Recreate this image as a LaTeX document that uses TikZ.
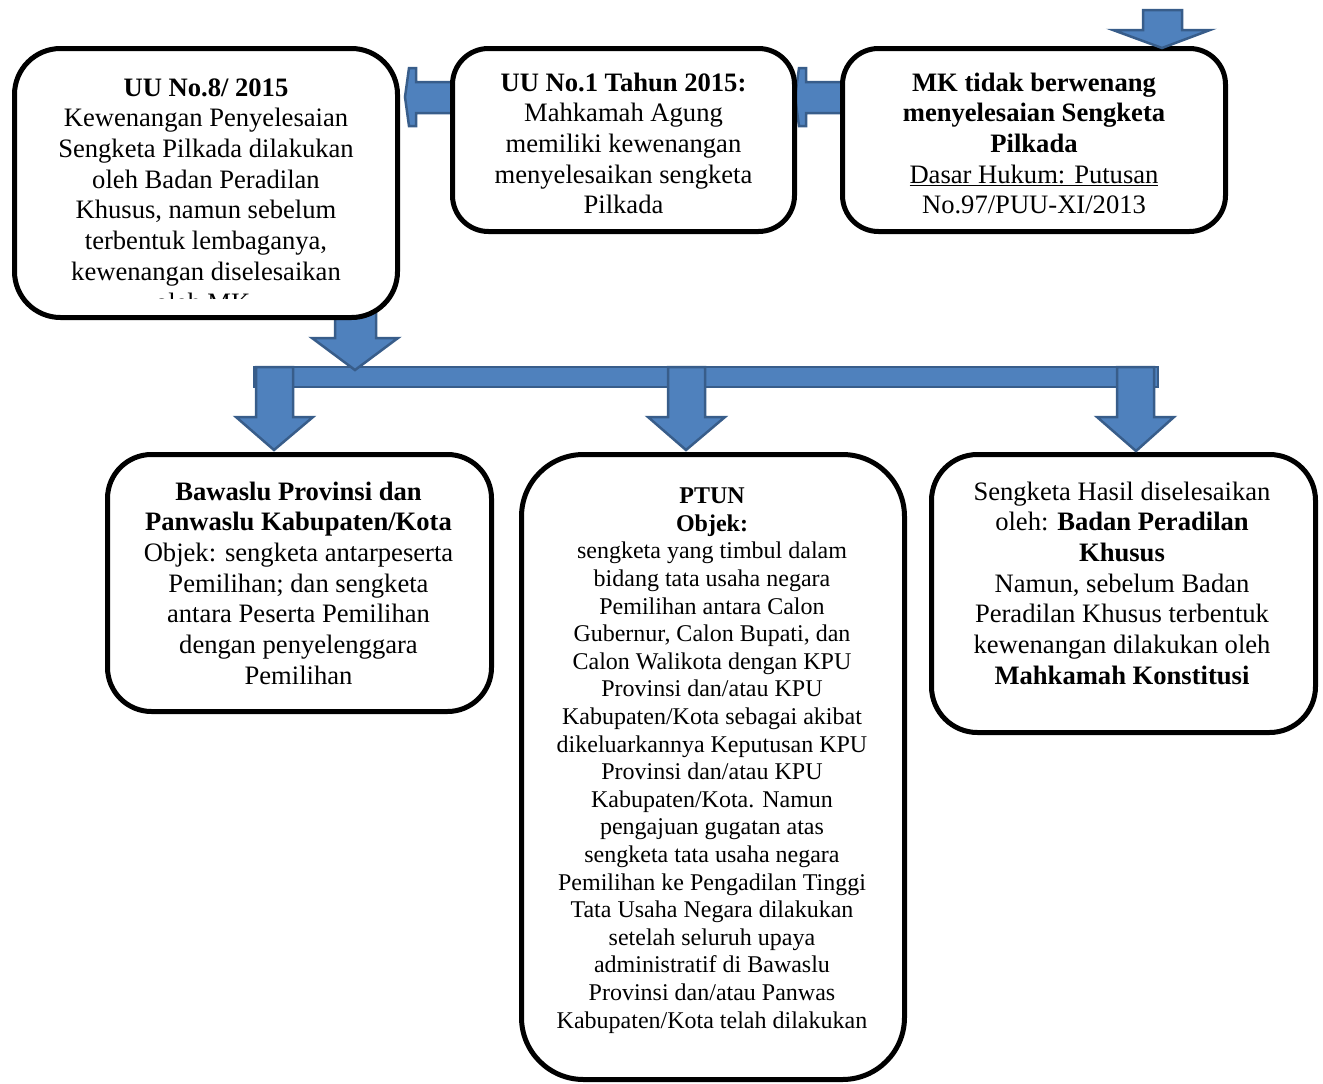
\documentclass[tikz,border=0pt]{standalone}
\usepackage{fontspec}
\setmainfont{Liberation Serif}
\begin{document}
\begin{tikzpicture}[x=1pt,y=-1pt,
  box/.style={draw=black, line width=5pt, fill=white},
  bigtxt/.style={anchor=north, align=center, inner sep=0pt, font={\fontsize{26.6}{30.7}\selectfont}},
  smalltxt/.style={anchor=north, align=center, inner sep=0pt, font={\fontsize{24}{27.6}\selectfont}},
  blockarrow/.style={fill=arrowfill, draw=arrowline, line width=2.5pt, line join=miter}
]
\definecolor{arrowfill}{RGB}{79,129,189}
\definecolor{arrowline}{RGB}{56,93,138}
\useasboundingbox (0,0) rectangle (1323,1084);

% distribution bar
\draw[blockarrow] (254,367) rectangle (1158,387);
% down arrow from box 1 to the bar
\draw[blockarrow] (335,312) -- (376,312) -- (376,338) -- (398,338) -- (355,370) -- (312,338) -- (335,338) -- cycle;

% left-pointing arrows between the top boxes
\draw[blockarrow] (452,82) -- (416,82) -- (416,68) -- (409,68) -- (405,97) -- (409,126) -- (416,126) -- (416,113) -- (452,113) -- cycle;
\draw[blockarrow] (842,82) -- (806,82) -- (806,68) -- (799,68) -- (795,97) -- (799,126) -- (806,126) -- (806,113) -- (842,113) -- cycle;

% top boxes
\node[box, minimum width=383pt, minimum height=269pt, rounded corners=46pt] (b1) at (206,183) {};
\node[box, minimum width=342pt, minimum height=183pt, rounded corners=36pt] (b2) at (623.5,140) {};
\node[box, minimum width=383pt, minimum height=183pt, rounded corners=36pt] (b3) at (1034,140) {};

% top arrow into box 3
\draw[blockarrow] (1143,10) -- (1182,10) -- (1182,30) -- (1210,30) -- (1162,48) -- (1113,30) -- (1143,30) -- cycle;

\begin{scope}
\clip (14,48) rectangle (398,298);
\node[bigtxt] (t1) at (206,74.5) {\strut\textbf{UU No.8/ 2015}\\Kewenangan Penyelesaian\\Sengketa Pilkada dilakukan\\oleh Badan Peradilan\\Khusus, namun sebelum\\terbentuk lembaganya,\\kewenangan diselesaikan\\oleh MK.};
\end{scope}
\node[bigtxt] (t2) at (623.5,69.5) {\strut\textbf{UU No.1 Tahun 2015:}\\Mahkamah Agung\\memiliki kewenangan\\menyelesaikan sengketa\\Pilkada};
\node[bigtxt] (t3) at (1034,69.5) {\strut\textbf{MK tidak berwenang}\\\textbf{menyelesaian Sengketa}\\\textbf{Pilkada}\\\underline{Dasar Hukum: Putusan}\\No.97/PUU-XI/2013};

% bottom boxes
\node[box, minimum width=384pt, minimum height=257pt, rounded corners=44pt] (b4) at (299.5,583) {};
\node[box, minimum width=383pt, minimum height=625pt, rounded corners=62pt] (b5) at (713,767) {};
\node[box, minimum width=384pt, minimum height=278pt, rounded corners=46pt] (b6) at (1123.5,593.5) {};

% down arrows from the bar
\draw[blockarrow] (256,367) -- (293,367) -- (293,417) -- (313,417) -- (274,450) -- (236,417) -- (256,417) -- cycle;
\draw[blockarrow] (668,367) -- (705,367) -- (705,417) -- (725,417) -- (686,450) -- (648,417) -- (668,417) -- cycle;
\draw[blockarrow] (1117,367) -- (1154,367) -- (1154,417) -- (1174,417) -- (1136,451) -- (1097,417) -- (1117,417) -- cycle;

\node[bigtxt] (t4) at (298.5,478.5) {\strut\textbf{Bawaslu Provinsi dan}\\\textbf{Panwaslu Kabupaten/Kota}\\Objek: sengketa antarpeserta\\Pemilihan; dan sengketa\\antara Peserta Pemilihan\\dengan penyelenggara\\Pemilihan};
\node[smalltxt] (t5) at (712,484.2) {\strut\textbf{PTUN}\\\textbf{Objek:}\\sengketa yang timbul dalam\\bidang tata usaha negara\\Pemilihan antara Calon\\Gubernur, Calon Bupati, dan\\Calon Walikota dengan KPU\\Provinsi dan/atau KPU\\Kabupaten/Kota sebagai akibat\\dikeluarkannya Keputusan KPU\\Provinsi dan/atau KPU\\Kabupaten/Kota. Namun\\pengajuan gugatan atas\\sengketa tata usaha negara\\Pemilihan ke Pengadilan Tinggi\\Tata Usaha Negara dilakukan\\setelah seluruh upaya\\administratif di Bawaslu\\Provinsi dan/atau Panwas\\Kabupaten/Kota telah dilakukan};
\node[bigtxt] (t6) at (1122,478.5) {\strut Sengketa Hasil diselesaikan\\oleh: \textbf{Badan Peradilan}\\\textbf{Khusus}\\Namun, sebelum Badan\\Peradilan Khusus terbentuk\\kewenangan dilakukan oleh\\\textbf{Mahkamah Konstitusi}};
\end{tikzpicture}
\end{document}
